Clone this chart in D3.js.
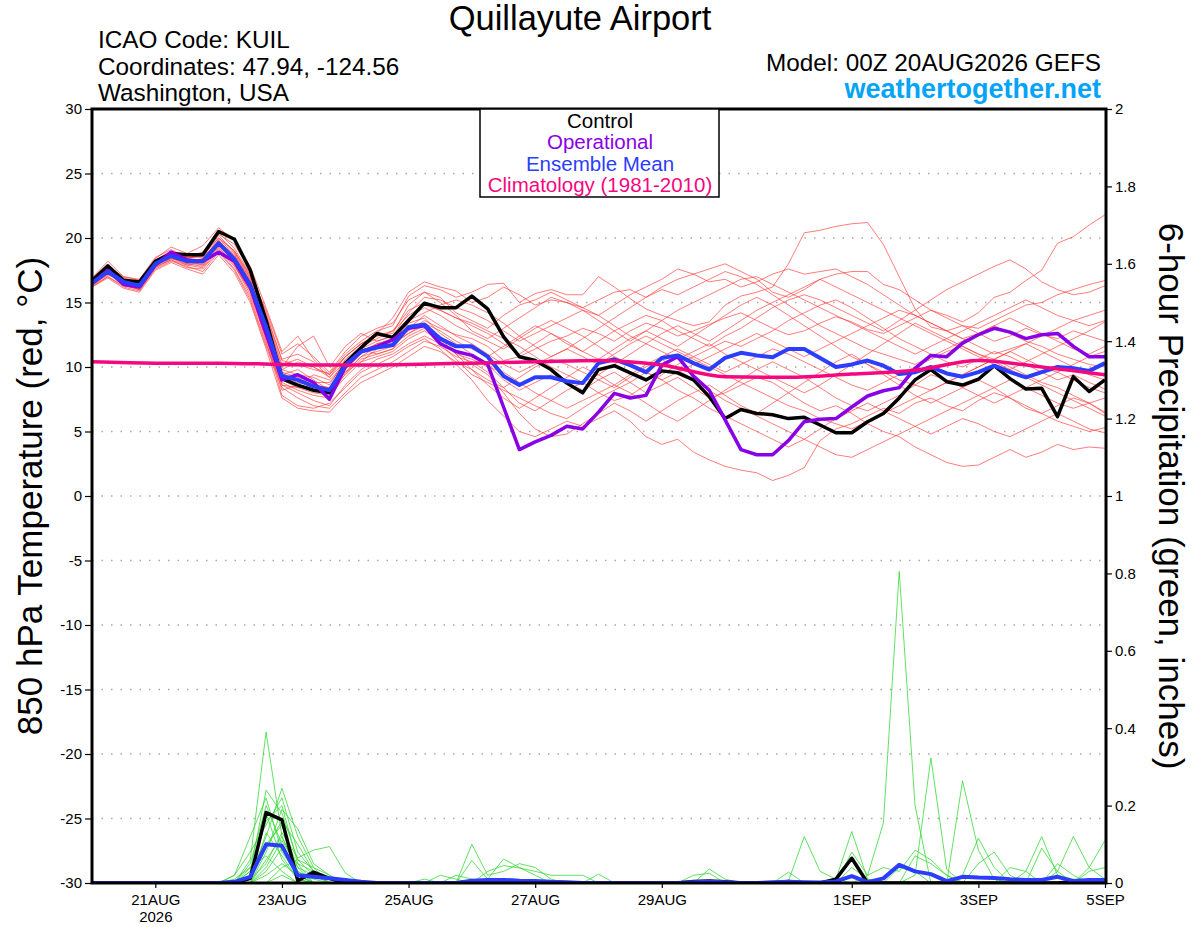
<!DOCTYPE html>
<html>
<head>
<meta charset="utf-8">
<script src="https://cdn.jsdelivr.net/npm/d3@7"></script>
<style>
  body { margin: 0; background: #fff; }
  svg { display: block; font-family: "Liberation Sans", Arial, Helvetica, sans-serif; }
</style>
</head>
<body>
<svg id="chart" width="1200" height="927"></svg>
<script>
// model run: 00Z 20AUG2026, 6-hourly out to 5SEP
var runStart = Date.UTC(2026, 7, 20, 0);
var runEnd = Date.UTC(2026, 8, 5, 0);

var dateTicks = [Date.UTC(2026,7,21), Date.UTC(2026,7,23), Date.UTC(2026,7,25), Date.UTC(2026,7,27),
                 Date.UTC(2026,7,29), Date.UTC(2026,8,1), Date.UTC(2026,8,3), Date.UTC(2026,8,5)];
var dateLabels = ['21AUG', '23AUG', '25AUG', '27AUG', '29AUG', '1SEP', '3SEP', '5SEP'];
var tempTicks = [-30, -25, -20, -15, -10, -5, 0, 5, 10, 15, 20, 25, 30];
var precipTicks = [0, 0.2, 0.4, 0.6, 0.8, 1, 1.2, 1.4, 1.6, 1.8, 2];

// 850 hPa temperature (C)
var control = [16.7,17.85,16.7,16.6,18.2,18.8,18.7,18.7,20.5,19.9,17.5,13.6,
  9.1,8.6,8.2,8.0,10.3,11.5,12.6,12.3,13.6,14.95,14.6,14.6,15.5,
  14.5,12.35,10.8,10.5,9.8,8.75,8.0,9.8,10.1,9.55,9.0,9.7,9.55,9.0,7.7,6.0,
  6.7,6.4,6.3,6.0,6.1,5.5,4.9,4.9,5.76,6.4,7.6,9.0,9.8,8.86,8.6,9.05,10.1,9.1,8.3,8.35,6.15,9.25,8.1,9.0];
var operational = [16.5,17.5,16.4,16.2,17.9,18.9,18.3,18.2,18.9,18.2,16.2,12.6,
  9.0,9.4,8.8,7.5,10.0,11.2,11.6,12.1,13.0,13.2,11.8,11.2,10.9,
  10.2,6.9,3.6,4.2,4.7,5.4,5.2,6.5,7.96,7.6,7.8,10.15,10.8,9.3,8.2,5.9,
  3.6,3.2,3.2,4.3,5.76,5.95,6.0,6.9,7.75,8.16,8.4,9.9,10.9,10.8,11.85,12.5,13.0,12.7,12.2,12.5,12.6,11.6,10.8,10.8];
var ensMean = [16.5,17.4,16.6,16.3,18.0,18.6,18.2,18.2,19.6,18.35,16.35,13.1,
  9.3,9.0,8.5,8.2,10.15,11.2,11.5,11.7,13.1,13.3,12.2,11.6,11.6,
  10.8,9.3,8.6,9.2,9.2,8.9,8.75,10.3,10.6,10.15,9.6,10.7,10.9,10.3,9.8,10.7,
  11.1,10.9,10.75,11.4,11.4,10.7,10.0,10.2,10.5,10.1,9.45,9.6,10.0,9.5,9.25,9.6,10.1,9.6,9.2,9.6,10.0,9.9,9.7,10.3];
// climatology, one value per day (00Z)
var climatology = [10.4,10.3,10.3,10.2,10.15,10.2,10.3,10.4,10.5,10.15,9.25,9.2,9.45,9.75,10.5,10.0,9.4];

var memberTemps = [
  [16.8,17.9,16.9,16.5,18.3,19.0,18.6,18.9,20.3,19.5,17.5,14.2, 10.5,10.2,9.8,9.5,11.0,12.0,12.8,13.2,15.5,16.3,16.0,15.4,15.8, 16.4,16.5,15.0,15.7,16.0,15.6,15.6,17.0,16.2,15.3,14.5,14.0,13.6,13.2,13.5,14.8, 15.5,15.8,16.2,18.0,20.4,20.6,20.9,21.1,21.2,19.5,17.0,14.5,13.1,12.8,13.2,12.6,12.0,12.4,13.0,12.5,12.2,12.8,12.4,12.0],
  [16.3,17.2,16.4,16.0,17.7,18.4,18.0,17.8,19.2,18.0,15.8,12.4, 8.8,8.2,7.8,7.6,9.5,10.8,11.2,11.6,12.8,13.6,13.0,12.5,12.2, 11.6,10.5,10.8,11.4,12.0,12.4,13.0,12.6,12.0,12.8,13.4,13.0,12.4,12.8,13.3,13.8, 14.2,13.6,13.0,12.5,12.8,13.4,13.9,13.5,12.9,12.6,13.2,13.8,14.4,14.0,13.5,14.2,15.4,15.8,16.7,17.5,19.6,20.1,21.0,21.8],
  [16.6,17.5,16.7,16.4,18.1,18.8,18.4,18.0,19.5,18.2,16.0,12.0, 7.8,7.0,6.8,7.2,8.4,9.6,10.2,10.8,11.6,12.2,11.4,10.2,9.0, 7.4,6.2,5.0,4.6,5.2,5.8,5.4,6.0,6.6,5.8,4.6,4.0,4.4,3.4,2.8,2.3, 2.0,1.8,1.2,1.6,2.2,4.3,5.2,5.6,6.2,6.8,6.4,7.2,7.6,7.0,6.6,7.4,8.0,7.6,6.8,6.4,7.0,7.6,7.2,6.5],
  [16.4,17.3,16.5,16.2,17.9,18.5,18.1,18.3,19.8,18.6,16.6,13.4, 9.5,9.0,8.4,8.0,9.8,11.0,11.8,12.0,13.4,13.8,12.6,11.8,11.0, 10.2,9.0,8.2,8.8,9.4,8.8,8.2,9.0,9.6,8.8,8.0,8.6,9.2,8.4,7.6,8.0, 8.6,9.2,8.8,8.0,7.2,6.6,7.0,6.4,5.6,5.0,4.6,3.8,3.2,2.6,2.3,2.4,3.0,3.6,3.0,3.4,4.0,3.6,3.8,3.7],
  [16.7,17.6,16.8,16.6,18.4,19.3,18.8,19.4,20.8,19.8,17.8,14.6, 11.2,12.4,10.6,9.4,10.8,11.8,12.6,13.8,15.8,16.6,16.2,15.9,15.0, 15.4,16.2,15.6,14.8,15.2,15.0,14.6,15.2,15.8,16.0,15.4,16.2,16.8,17.2,17.6,18.0, 17.4,16.8,15.8,15.4,16.0,16.8,17.2,17.4,17.4,16.4,16.0,15.2,14.4,13.8,13.2,13.0,13.6,14.2,14.8,15.0,15.6,16.0,16.4,16.7],
  [16.2,17.0,16.2,15.9,17.6,18.2,17.8,17.4,18.9,17.5,15.2,11.6, 8.4,7.6,7.0,6.8,8.0,9.2,9.8,10.4,11.2,12.0,11.6,10.8,10.4, 9.6,8.4,7.2,6.6,7.4,8.2,8.8,8.0,7.4,7.8,8.6,9.4,10.2,10.8,11.4,12.0, 11.6,12.2,12.8,13.6,14.2,14.8,15.2,14.6,13.8,13.0,12.2,11.6,11.0,10.4,10.0,10.6,11.2,10.8,10.2,9.6,9.0,9.4,8.8,8.3],
  [16.9,18.2,17.0,16.8,18.5,19.1,18.5,18.6,20.0,19.0,17.0,13.8, 10.0,11.6,12.4,10.0,11.6,12.6,12.0,12.4,14.2,15.4,15.2,14.6,14.2, 13.6,12.8,12.0,12.6,13.2,13.8,14.4,14.0,13.2,12.4,11.8,11.2,10.6,11.2,11.8,11.0, 10.4,9.8,9.2,8.6,8.0,8.6,9.4,10.2,11.0,11.8,12.6,13.4,12.8,12.2,11.6,11.0,10.6,10.0,9.4,8.8,8.4,7.8,7.2,6.4],
  [16.5,17.3,16.3,16.1,17.8,18.6,18.3,17.9,19.3,17.9,15.6,12.2, 8.2,8.6,9.4,9.0,10.2,11.4,11.0,11.4,12.4,13.0,12.4,11.2,10.2, 9.4,8.0,6.4,5.2,4.6,4.8,5.6,6.4,7.2,6.6,5.8,6.6,7.4,8.0,8.6,7.8, 7.0,6.4,7.2,8.0,8.8,9.6,10.4,11.0,10.2,9.4,8.6,7.8,7.2,7.8,8.4,9.0,8.4,7.6,7.0,6.4,5.8,5.4,5.0,5.3],
  [16.6,17.6,16.6,16.4,18.2,18.7,18.0,18.4,19.9,18.8,16.8,13.6, 9.8,9.4,9.2,8.6,10.6,11.6,12.2,12.8,14.4,15.0,14.4,13.8,13.2, 12.6,11.8,11.0,11.8,12.6,11.8,11.2,12.0,12.8,13.4,14.0,13.6,12.8,12.2,11.6,12.4, 13.0,13.8,14.6,15.2,15.6,15.2,14.6,14.0,13.4,12.8,13.6,14.4,15.2,16.0,16.6,17.2,17.8,18.3,17.6,16.6,16.0,15.6,15.8,16.3],
  [16.4,17.1,16.8,16.5,18.1,18.5,17.9,18.1,19.6,18.4,16.4,12.8, 9.2,8.8,8.6,8.4,9.6,10.4,11.4,11.8,12.6,13.2,12.2,11.0,9.8, 8.6,7.6,6.8,7.6,8.4,9.2,10.0,9.4,8.6,8.0,7.2,6.4,5.8,6.6,7.4,8.2, 9.0,9.8,10.4,9.8,9.2,8.4,7.6,7.0,6.6,7.2,7.8,8.6,9.4,9.0,8.4,7.8,7.2,7.8,8.4,9.0,9.6,10.2,10.8,11.2],
  [16.3,17.4,16.5,16.2,18.0,18.9,18.5,18.6,20.2,18.9,16.9,14.0, 10.6,11.0,10.4,9.2,10.4,11.2,11.8,12.2,13.6,14.2,14.8,15.2,14.8, 14.2,13.4,12.4,11.6,10.8,11.4,12.2,13.0,13.8,14.6,15.4,16.0,15.6,16.2,16.8,17.4, 17.0,16.4,15.6,14.8,14.0,13.2,12.6,12.0,11.4,11.0,10.6,10.2,10.8,11.4,12.0,12.6,13.2,13.8,13.2,12.6,12.0,11.4,11.0,11.6],
  [16.7,17.4,16.4,16.0,17.8,18.3,17.7,17.6,19.0,17.6,15.4,11.8, 8.6,8.0,7.4,7.0,8.6,9.8,10.6,11.0,11.8,12.4,11.8,10.6,9.4, 8.8,8.2,7.6,7.0,6.4,6.0,6.8,7.6,8.2,8.8,9.6,9.0,8.2,7.6,6.8,6.2, 5.6,5.0,4.4,3.8,4.4,5.2,6.0,6.6,7.2,6.6,6.0,5.4,4.8,5.4,6.0,5.6,5.0,4.6,5.2,5.8,6.4,5.8,5.2,4.9],
  [16.5,17.5,16.9,16.6,18.2,18.8,18.3,18.9,20.4,19.2,17.2,13.9, 10.2,10.6,10.0,9.2,10.8,11.8,12.4,12.6,14.8,15.8,15.4,14.2,13.6, 13.0,14.0,14.8,15.2,15.8,15.2,14.6,14.0,14.8,15.6,16.2,16.8,17.6,17.2,16.6,16.8, 16.2,16.6,17.2,17.6,17.2,17.4,17.6,17.0,16.4,15.6,14.8,14.0,13.4,12.8,12.2,12.6,13.2,12.6,12.0,11.6,11.0,10.6,10.2,10.0],
  [16.6,17.2,16.7,16.3,17.9,18.4,18.2,18.2,19.5,18.3,16.2,13.0, 9.4,9.8,9.0,8.2,9.4,10.6,11.0,11.4,13.0,14.0,13.2,12.4,11.8, 11.0,10.2,9.6,10.2,10.8,11.4,10.8,10.2,11.0,11.8,12.4,11.8,11.2,10.6,10.0,9.4, 8.8,8.2,7.6,7.0,6.6,6.0,5.6,5.2,5.8,6.4,7.0,7.6,8.2,8.8,9.4,10.0,10.6,11.2,10.6,10.0,9.6,9.0,8.4,8.0],
  [16.2,16.9,16.1,15.8,17.5,18.1,17.6,17.2,18.7,17.3,15.0,11.4, 7.6,6.8,6.6,6.5,7.8,8.8,9.4,10.0,10.8,11.6,11.2,10.4,9.8, 9.0,8.4,9.2,10.0,10.6,10.2,9.6,9.0,8.4,9.2,10.0,10.6,9.8,9.0,8.2,7.4, 6.8,6.2,5.6,5.0,4.4,3.8,3.2,3.0,3.6,4.2,4.8,5.4,6.0,6.6,7.2,7.8,8.4,9.0,8.4,7.8,7.2,6.8,7.2,7.6],
  [16.8,17.8,17.0,16.7,18.3,18.6,18.4,18.8,20.0,19.0,17.1,14.4, 11.0,11.8,10.8,9.6,11.2,12.4,13.0,13.4,15.2,15.8,15.0,14.0,12.8, 12.2,13.0,13.8,14.6,15.4,15.0,14.4,13.6,12.8,12.0,12.8,13.6,14.4,15.0,15.6,16.2, 16.8,17.0,16.4,15.8,15.2,14.6,14.0,13.4,12.8,12.2,11.6,11.0,11.6,12.2,12.8,13.4,14.0,14.6,15.2,14.6,14.0,13.6,13.2,13.6],
  [16.4,17.3,16.6,16.4,18.0,18.6,18.1,17.9,19.4,18.1,16.0,12.6, 9.0,8.4,8.0,7.8,9.2,10.4,10.8,11.2,12.2,12.8,12.0,11.0,10.6, 10.0,9.6,8.8,8.0,7.4,6.8,7.4,8.0,8.6,9.4,10.2,10.8,11.4,10.8,10.2,9.6, 10.2,10.8,11.4,11.0,10.4,9.8,9.2,8.6,8.2,8.8,9.4,10.0,10.6,11.2,11.6,11.0,10.4,9.8,9.2,8.6,8.0,7.4,6.8,6.2],
  [16.6,17.7,16.8,16.5,18.1,18.7,18.2,18.4,19.8,18.6,16.6,13.2, 9.6,9.2,8.8,8.8,10.2,11.4,12.0,12.4,13.8,14.6,14.0,13.2,12.6, 12.0,11.4,12.2,13.0,13.6,13.0,12.4,11.6,10.8,10.2,9.6,9.0,9.6,10.2,10.8,11.4, 12.0,12.6,12.0,11.4,10.8,11.4,12.0,12.6,13.2,13.8,14.4,14.0,13.4,12.8,12.2,11.6,11.0,11.4,11.8,12.4,13.0,13.6,14.0,14.4],
  [16.3,17.0,16.3,16.0,17.7,18.3,17.9,17.7,19.1,17.8,15.9,12.3, 8.6,8.4,8.6,8.4,9.6,10.8,11.6,11.8,12.6,13.4,12.8,12.0,11.4, 10.8,11.6,12.4,13.2,12.6,12.0,11.2,10.6,11.4,12.2,12.8,12.2,11.6,12.4,13.2,14.0, 14.8,15.4,14.8,14.0,13.2,12.4,11.6,10.8,10.2,9.6,9.0,8.6,8.2,8.8,9.4,10.0,10.6,11.2,11.8,11.2,10.6,10.0,9.4,9.0],
  [16.5,17.6,16.5,16.3,18.2,18.9,18.5,18.5,19.7,18.7,16.7,13.3, 9.8,10.4,10.0,9.4,10.8,11.8,12.4,12.8,14.0,14.8,14.4,13.8,13.4, 12.8,12.2,11.6,10.8,10.0,9.4,8.8,9.4,10.2,11.0,11.8,12.6,13.2,12.6,12.0,12.8, 13.6,14.4,15.0,15.6,16.2,16.8,16.2,15.6,15.0,14.4,13.8,13.2,12.6,12.0,11.4,10.8,10.2,9.8,10.4,11.0,11.6,12.2,12.8,13.5]
];

// 6-hour precipitation (inches)
var controlPrecip = [0,0,0,0,0,0,0,0,0,0, 0.012,0.182,0.163,0.006,0.028,0.012,0,0,0,0, 0,0,0,0,0,0,0,0,0,0,
  0,0,0,0,0,0,0,0,0.004,0.005, 0.003,0,0,0,0.004,0,0,0.01,0.064,0, 0,0,0,0,0,0,0,0,0,0, 0,0,0.003,0,0];
var meanPrecip = [0,0,0,0,0,0,0,0,0,0.003, 0.016,0.10,0.096,0.02,0.016,0.012,0.008,0.003,0,0, 0,0,0,0,0.006,0.008,0.008,0.006,0.005,0.003,
  0.002,0,0,0,0,0,0,0,0.002,0.003, 0.002,0,0,0.002,0.003,0.002,0.001,0.004,0.018,0.002, 0.012,0.047,0.03,0.023,0.005,0.016,0.014,0.013,0.01,0.008, 0.008,0.016,0.005,0.008,0.008];
var memberPrecip = [
  [0,0,0,0,0,0,0,0,0,0, .06,.39,.12,.03,.01,0,0,0,0,0, 0,0,.02,.01,0,0,0,0,0,0, 0,0,0,0,0,0,0,0,0,0, 0,0,0,0,0,0,0,0,0,0, 0,.04,.03,0,0,0,0,0,0,0, 0,0,0,0,0],
  [0,0,0,0,0,0,0,0,0,0, .03,.24,.18,.06,.02,0,0,0,0,0, 0,0,0,0,0,0,0,0,0,0, 0,0,0,0,0,0,0,0,0,0, 0,0,0,0,0,0,0,0,0,.02, .155,.805,.2,0,0,0,0,0,0,0, 0,0,0,0,0],
  [0,0,0,0,0,0,0,0,0,0, .02,.12,.245,.12,.04,0,0,0,0,0, 0,0,0,0,.10,.02,.03,.05,.04,.01, 0,0,0,0,0,0,0,0,0,0, 0,0,0,0,0,0,0,0,0,0, 0,0,0,0,0,0,0,0,.04,.03, 0,0,0,0,0],
  [0,0,0,0,0,0,0,0,0,0, .05,.2,.1,.02,0,0,0,0,0,0, 0,0,0,0,0,0,0,0,0,0, 0,0,0,0,0,0,0,0,0,0, 0,0,0,0,0,0,0,0,0,0, 0,0,.02,.323,.035,0,0,0,0,0, 0,0,0,0,0],
  [0,0,0,0,0,0,0,0,0,.02, .08,.15,.22,.08,.03,0,0,0,0,0, 0,0,0,0,.058,.01,.062,.04,.02,0, 0,0,0,0,0,0,0,0,0,0, 0,0,0,0,0,0,0,0,0,0, 0,0,0,0,0,0,0,0,0,0, 0,.05,.02,0,0],
  [0,0,0,0,0,0,0,0,0,0, 0,.08,.19,.14,.05,.02,0,0,0,0, 0,0,0,0,0,0,0,0,0,0, 0,0,0,0,0,0,0,0,0,0, 0,0,0,0,0,0,0,0,0,0, 0,0,0,0,0,.264,.085,.01,0,0, 0,0,0,0,0],
  [0,0,0,0,0,0,0,0,0,0, .01,.05,.13,.065,.085,.094,.026,0,0,0, 0,0,0,0,0,.03,.045,.039,.03,.02, .02,.02,0,0,0,0,0,0,0,0, 0,0,0,0,0,0,0,0,.02,0, 0,0,0,0,0,0,0,0,0,0, 0,0,0,0,0],
  [0,0,0,0,0,0,0,0,0,0, .02,.18,.06,.01,0,0,0,0,0,0, 0,0,0,0,0,0,0,0,0,0, 0,0,0,0,0,0,0,0,0,0, 0,0,0,0,.005,.12,.03,.01,0,0, 0,0,0,0,0,0,0,0,0,0, 0,0,0,0,0],
  [0,0,0,0,0,0,0,0,0,.01, .04,.1,.15,.04,0,0,0,0,0,0, 0,.01,0,.02,.01,0,0,0,0,0, 0,0,0,0,0,0,0,0,0,0, 0,0,0,0,0,0,0,0,0,0, 0,0,0,0,0,0,0,0,0,0, 0,0,0,0,0],
  [0,0,0,0,0,0,0,0,0,0, 0,.03,.09,.05,.03,.01,0,0,0,0, 0,0,0,0,0,0,0,0,0,0, 0,0,.023,0,0,0,0,0,0,0, 0,0,0,0,0,0,0,0,0,0, 0,0,0,0,0,0,0,0,0,0, 0,.03,.12,.04,.01],
  [0,0,0,0,0,0,0,0,0,0, .03,.16,.2,.05,0,0,0,0,0,0, 0,0,0,0,0,0,0,0,0,0, 0,0,0,0,0,0,0,0,0,0, 0,0,0,0,0,0,0,.01,.133,.01, 0,0,0,0,0,0,0,0,0,0, 0,0,0,0,0],
  [0,0,0,0,0,0,0,0,0,0, 0,.06,.12,.03,0,0,0,0,0,0, 0,0,0,0,0,0,0,0,0,0, 0,0,0,0,0,0,0,0,0,.036, .01,0,0,0,0,0,0,0,0,0, 0,0,0,0,0,0,0,0,0,0, 0,0,0,.04,.11],
  [0,0,0,0,0,0,0,0,0,.02, .12,.22,.08,.02,0,0,0,0,0,0, 0,0,0,0,0,0,0,0,0,0, 0,0,0,0,0,0,0,0,0,0, 0,0,0,0,0,0,0,0,.08,.02, .04,.03,.085,.06,.02,0,0,0,0,0, 0,0,0,0,0],
  [0,0,0,0,0,0,0,0,0,0, 0,0,.04,.06,.04,.02,0,0,0,0, 0,0,0,0,0,0,0,0,0,0, 0,0,0,0,0,0,0,0,.02,.025, 0,0,0,0,0,0,0,0,0,0, 0,0,0,0,0,0,0,0,0,0, 0,0,0,.03,.04],
  [0,0,0,0,0,0,0,0,0,0, 0,.02,.05,.02,0,0,0,0,0,0, 0,0,0,0,0,0,0,0,0,0, 0,0,0,0,0,0,0,0,0,0, 0,0,0,0,0,0,0,0,0,0, 0,0,.07,.05,.02,0,0,0,0,0, 0,0,0,0,0],
  [0,0,0,0,0,0,0,0,0,0, .01,.09,.16,.1,.03,0,0,0,0,0, 0,0,0,0,0,0,0,0,0,0, 0,0,0,0,0,0,0,0,0,0, 0,0,0,0,.028,0,0,0,.04,.01, 0,0,0,0,0,0,0,0,0,0, 0,0,0,0,0],
  [0,0,0,0,0,0,0,0,0,0, 0,.13,.07,.01,0,0,0,0,0,0, 0,0,0,0,0,0,0,0,0,0, 0,0,0,0,0,0,0,0,0,0, 0,0,0,0,0,0,0,0,0,0, 0,0,0,0,0,.02,.116,.04,0,0, 0,0,0,0,0],
  [0,0,0,0,0,0,0,0,0,0, 0,0,.02,0,0,0,0,0,0,0, 0,0,0,0,0,0,0,0,0,0, 0,0,0,0,0,0,0,0,0,0, 0,0,0,0,0,0,0,0,0,0, 0,0,0,0,0,0,.05,.08,.02,0, 0,0,0,0,0],
  [0,0,0,0,0,0,0,0,0,0, 0,.04,.11,.04,.02,0,0,0,0,0, 0,0,0,0,0,0,0,0,0,0, 0,0,0,0,0,0,0,0,0,0, 0,0,0,0,0,0,0,0,0,0, 0,0,0,0,0,0,0,0,0,.03, .12,.02,.01,0,0],
  [0,0,0,0,0,0,0,0,0,0, .04,.07,.03,0,0,0,0,0,0,0, 0,0,0,0,0,0,0,0,0,0, 0,0,0,0,0,0,0,0,0,0, 0,0,0,0,0,0,0,0,0,0, 0,0,0,0,0,0,0,0,0,0, .09,.03,0,0,0]
];

var legendItems = [
  {label: 'Control', color: '#000000'},
  {label: 'Operational', color: '#8a00e6'},
  {label: 'Ensemble Mean', color: '#2b3dff'},
  {label: 'Climatology (1981-2010)', color: '#f5087f'}
];

var svg = d3.select('#chart');
var plot = {left: 92, right: 1106, top: 109, bottom: 883};

// time of every 6-hour step
var times = control.map(function(d, i) { return new Date(runStart + i * 6 * 3600 * 1000); });
var climTimes = climatology.map(function(d, i) { return new Date(runStart + i * 24 * 3600 * 1000); });

var x = d3.scaleUtc().domain([new Date(runStart), new Date(runEnd)]).range([plot.left, plot.right - 1]);
var yT = d3.scaleLinear().domain([-30, 30]).range([plot.bottom, plot.top]);
var yP = d3.scaleLinear().domain([0, 2]).range([plot.bottom, plot.top]);

var tLine = d3.line().x(function(d, i) { return x(times[i]); }).y(function(d) { return yT(d); });
var pLine = d3.line().x(function(d, i) { return x(times[i]); }).y(function(d) { return yP(d); });
var climLine = d3.line().x(function(d, i) { return x(climTimes[i]); }).y(function(d) { return yT(d); })
  .curve(d3.curveMonotoneX);

// horizontal dotted grid every 5 degrees
svg.append('g')
  .selectAll('line')
  .data(tempTicks.filter(function(d) { return d > -30 && d < 30; }))
  .enter()
  .append('line')
  .attr('x1', plot.left)
  .attr('x2', plot.right)
  .attr('y1', function(d) { return yT(d); })
  .attr('y2', function(d) { return yT(d); })
  .attr('stroke', '#a8a8a8')
  .attr('stroke-width', 1.5)
  .attr('stroke-dasharray', '1.5,8');

svg.append('clipPath').attr('id', 'plotClip')
  .append('rect')
  .attr('x', plot.left).attr('y', plot.top)
  .attr('width', plot.right - plot.left).attr('height', plot.bottom - plot.top);

var g = svg.append('g').attr('clip-path', 'url(#plotClip)');

// ensemble members: temperature (red)
g.append('g')
  .selectAll('path')
  .data(memberTemps)
  .enter()
  .append('path')
  .attr('d', tLine)
  .attr('fill', 'none')
  .attr('stroke', '#ff3b3b')
  .attr('stroke-opacity', 0.75)
  .attr('stroke-width', 0.9);

// ensemble members: precipitation (green)
g.append('g')
  .selectAll('path')
  .data(memberPrecip)
  .enter()
  .append('path')
  .attr('d', pLine)
  .attr('fill', 'none')
  .attr('stroke', '#2fd82f')
  .attr('stroke-opacity', 0.85)
  .attr('stroke-width', 0.9);

// precip control and mean
g.append('path').datum(controlPrecip).attr('d', pLine)
  .attr('fill', 'none').attr('stroke', '#000').attr('stroke-width', 3.5).attr('stroke-linejoin', 'round');
g.append('path').datum(meanPrecip).attr('d', pLine)
  .attr('fill', 'none').attr('stroke', '#2b3dff').attr('stroke-width', 4).attr('stroke-linejoin', 'round');

// temperature control, operational, mean
g.append('path').datum(control).attr('d', tLine)
  .attr('fill', 'none').attr('stroke', '#000').attr('stroke-width', 3.5).attr('stroke-linejoin', 'round');
g.append('path').datum(operational).attr('d', tLine)
  .attr('fill', 'none').attr('stroke', '#8a00e6').attr('stroke-width', 3.5).attr('stroke-linejoin', 'round');
g.append('path').datum(ensMean).attr('d', tLine)
  .attr('fill', 'none').attr('stroke', '#2b3dff').attr('stroke-width', 4).attr('stroke-linejoin', 'round');

// climatology
g.append('path').datum(climatology).attr('d', climLine)
  .attr('fill', 'none').attr('stroke', '#f5087f').attr('stroke-width', 3.5);

// frame
svg.append('rect')
  .attr('x', plot.left).attr('y', plot.top)
  .attr('width', plot.right - plot.left).attr('height', plot.bottom - plot.top)
  .attr('fill', 'none').attr('stroke', '#000').attr('stroke-width', 3);

// left axis
var leftAxis = svg.append('g')
  .attr('transform', 'translate(' + (plot.left - 1) + ',0)')
  .call(d3.axisLeft(yT).tickValues(tempTicks).tickSize(6).tickPadding(3)
    .tickFormat(function(d) { return String(d); }));

// right axis
var rightAxis = svg.append('g')
  .attr('transform', 'translate(' + (plot.right + 1) + ',0)')
  .call(d3.axisRight(yP).tickValues(precipTicks).tickSize(5).tickPadding(3)
    .tickFormat(function(d) { return String(d); }));

// bottom axis
var bottomAxis = svg.append('g')
  .attr('transform', 'translate(0,' + (plot.bottom + 1) + ')')
  .call(d3.axisBottom(x).tickValues(dateTicks.map(function(d) { return new Date(d); }))
    .tickSize(4).tickPadding(6)
    .tickFormat(function(d, i) { return dateLabels[i]; }));

[leftAxis, rightAxis, bottomAxis].forEach(function(a) {
  a.select('.domain').remove();
  a.selectAll('.tick line').attr('stroke', '#000').attr('stroke-width', 1.2);
  a.selectAll('.tick text')
    .attr('fill', '#000')
    .style('font-size', '15px')
    .style('font-family', '"Liberation Sans", Arial, sans-serif');
});

// year under the first date
bottomAxis.select('.tick text').append('tspan')
  .attr('x', 0).attr('dy', '1.15em').text('2026');

// legend box
var legend = svg.append('g');
legend.append('rect')
  .attr('x', 480).attr('y', plot.top)
  .attr('width', 239).attr('height', 88)
  .attr('fill', '#fff').attr('stroke', '#000').attr('stroke-width', 1.5);
legend.selectAll('text')
  .data(legendItems)
  .enter()
  .append('text')
  .attr('x', 600)
  .attr('y', function(d, i) { return 128 + i * 21.3; })
  .attr('text-anchor', 'middle')
  .attr('fill', function(d) { return d.color; })
  .style('font-size', '20.5px')
  .text(function(d) { return d.label; });

// titles and header text
svg.append('text').attr('x', 580).attr('y', 30).attr('text-anchor', 'middle')
  .style('font-size', '34.5px').text('Quillayute Airport');

var header = ['ICAO Code: KUIL', 'Coordinates: 47.94, -124.56', 'Washington, USA'];
svg.append('g').selectAll('text')
  .data(header)
  .enter()
  .append('text')
  .attr('x', 98)
  .attr('y', function(d, i) { return 48 + i * 26.5; })
  .style('font-size', '24.3px')
  .text(function(d) { return d; });

svg.append('text').attr('x', 1101).attr('y', 71).attr('text-anchor', 'end')
  .style('font-size', '24.3px').text('Model: 00Z 20AUG2026 GEFS');
svg.append('text').attr('x', 1101).attr('y', 98).attr('text-anchor', 'end')
  .style('font-size', '27px').style('font-weight', 'bold').attr('fill', '#06a3f7')
  .text('weathertogether.net');

// axis titles
svg.append('text')
  .attr('transform', 'translate(42,' + ((plot.top + plot.bottom) / 2) + ') rotate(-90)')
  .attr('text-anchor', 'middle')
  .style('font-size', '35px')
  .text('850 hPa Temperature (red, \u00B0C)');
svg.append('text')
  .attr('transform', 'translate(1159,' + ((plot.top + plot.bottom) / 2) + ') rotate(90)')
  .attr('text-anchor', 'middle')
  .style('font-size', '35px')
  .text('6-hour Precipitation (green, inches)');
</script>
</body>
</html>
